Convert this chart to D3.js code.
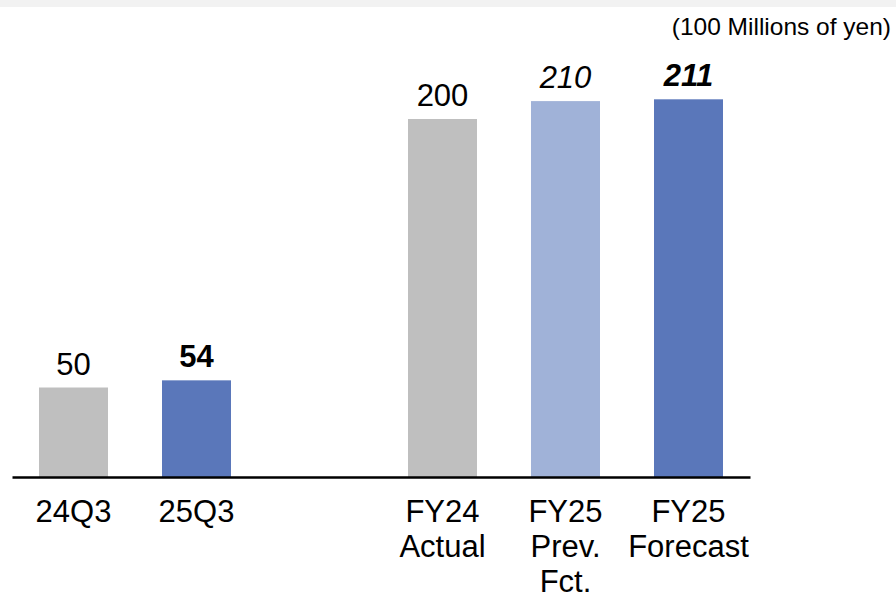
<!DOCTYPE html>
<html>
<head>
<meta charset="utf-8">
<script src="https://cdn.jsdelivr.net/npm/d3@7"></script>
<style>
  body { margin: 0; background: #fff; }
  svg { display: block; font-family: Arial, "Liberation Sans", sans-serif; }
</style>
</head>
<body>
<div id="vis"></div>
<script>
const FRAME_WIDTH = 896;
const FRAME_HEIGHT = 598;
const MARGINS = {left: 12, right: 146, top: 40, bottom: 121};

// data
const categories = ['24Q3', '25Q3', 'FY24 Actual', 'FY25 Prev. Fct.', 'FY25 Forecast'];
const values = [50, 54, 200, 210, 211];
const labelLines = [['24Q3'], ['25Q3'], ['FY24', 'Actual'], ['FY25', 'Prev.', 'Fct.'], ['FY25', 'Forecast']];
const barColors = ['#bfbfbf', '#5a77ba', '#bfbfbf', '#a0b2d8', '#5a77ba'];
const valueWeights = ['normal', 'bold', 'normal', 'normal', 'bold'];
const valueStyles = ['normal', 'normal', 'normal', 'italic', 'italic'];
const unitLabel = '(100 Millions of yen)';

// empty slot between the quarter bars and the full year bars
const slots = [categories[0], categories[1], 'gap', categories[2], categories[3], categories[4]];

const data = categories.map((c, i) => ({
    cat: c, value: values[i], lines: labelLines[i],
    color: barColors[i], weight: valueWeights[i], style: valueStyles[i]
}));

const VIS_WIDTH = FRAME_WIDTH - MARGINS.left - MARGINS.right;
const VIS_HEIGHT = FRAME_HEIGHT - MARGINS.top - MARGINS.bottom;

const FRAME = d3.select('#vis')
    .append('svg')
        .attr('width', FRAME_WIDTH)
        .attr('height', FRAME_HEIGHT);

// light band along the top edge
FRAME.append('rect')
    .attr('x', 0).attr('y', 0)
    .attr('width', FRAME_WIDTH).attr('height', 7)
    .attr('fill', '#f2f2f2');

FRAME.append('text')
    .attr('x', 891)
    .attr('y', 35)
    .attr('text-anchor', 'end')
    .attr('font-size', '24.5px')
    .attr('fill', '#000')
    .text(unitLabel);

const X_SCALE = d3.scaleBand()
    .domain(slots)
    .range([0, VIS_WIDTH])
    .paddingInner(54 / 123)
    .paddingOuter(27 / 123);

const Y_SCALE = d3.scaleLinear()
    .domain([0, 200])
    .range([VIS_HEIGHT, VIS_HEIGHT - 358]);

const g = FRAME.append('g')
    .attr('transform', 'translate(' + MARGINS.left + ',' + MARGINS.top + ')');

g.selectAll('.bar')
    .data(data)
    .enter()
    .append('rect')
        .attr('class', 'bar')
        .attr('x', d => X_SCALE(d.cat))
        .attr('y', d => Y_SCALE(d.value))
        .attr('width', X_SCALE.bandwidth())
        .attr('height', d => Y_SCALE(0) - Y_SCALE(d.value))
        .attr('fill', d => d.color);

// value labels
g.selectAll('.val')
    .data(data)
    .enter()
    .append('text')
        .attr('class', 'val')
        .attr('x', d => X_SCALE(d.cat) + X_SCALE.bandwidth() / 2)
        .attr('y', d => Y_SCALE(d.value) - 13)
        .attr('text-anchor', 'middle')
        .attr('font-size', '31px')
        .attr('font-weight', d => d.weight)
        .attr('font-style', d => d.style)
        .attr('fill', '#000')
        .text(d => d.value);

// x axis, drawn with the axis generator but without ticks
const xAxis = g.append('g')
    .attr('transform', 'translate(0,' + VIS_HEIGHT + ')')
    .call(d3.axisBottom(X_SCALE).tickSize(0).tickFormat(''));
xAxis.select('.domain')
    .attr('stroke', '#000')
    .attr('stroke-width', 2.5);

// multi line category labels
const cats = g.selectAll('.cat')
    .data(data)
    .enter()
    .append('text')
        .attr('class', 'cat')
        .attr('x', d => X_SCALE(d.cat) + X_SCALE.bandwidth() / 2)
        .attr('y', VIS_HEIGHT + 45)
        .attr('text-anchor', 'middle')
        .attr('font-size', '31px')
        .attr('fill', '#000');

cats.selectAll('tspan')
    .data(d => d.lines.map(l => ({line: l, x: X_SCALE(d.cat) + X_SCALE.bandwidth() / 2})))
    .enter()
    .append('tspan')
        .attr('x', d => d.x)
        .attr('dy', (d, i) => i === 0 ? 0 : 35)
        .text(d => d.line);
</script>
</body>
</html>
